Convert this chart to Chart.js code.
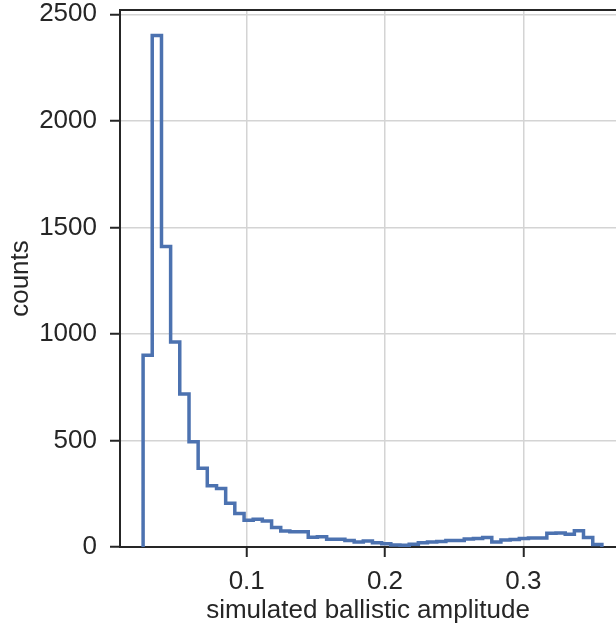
<!DOCTYPE html>
<html lang="en">
<head>
  <meta charset="UTF-8">
  <title>Simulated ballistic amplitude histogram</title>
  <script src="https://cdn.jsdelivr.net/npm/chart.js"></script>
  <style>
    html, body { margin: 0; padding: 0; background: #fff; }
    #wrap { width: 616px; height: 626px; }
  </style>
</head>
<body>
  <div id="wrap"><canvas id="histChart" width="616" height="626"></canvas></div>
  <script>
    // histogram bin edges (51) and counts per bin (50)
    const binEdges = [
      0.0251, 0.0317, 0.0384, 0.0450, 0.0516, 0.0583, 0.0649, 0.0715, 0.0782, 0.0848,
      0.0914, 0.0981, 0.1047, 0.1113, 0.1180, 0.1246, 0.1312, 0.1379, 0.1445, 0.1511,
      0.1578, 0.1644, 0.1710, 0.1777, 0.1843, 0.1909, 0.1976, 0.2042, 0.2108, 0.2175,
      0.2241, 0.2307, 0.2374, 0.2440, 0.2507, 0.2573, 0.2639, 0.2706, 0.2772, 0.2838,
      0.2905, 0.2971, 0.3037, 0.3104, 0.3170, 0.3236, 0.3303, 0.3369, 0.3435, 0.3502,
      0.3568
    ];
    const counts = [
      900, 2400, 1410, 962, 718, 494, 369, 288, 275, 205,
      157, 125, 130, 122, 92, 75, 72, 72, 46, 48,
      36, 36, 30, 23, 28, 20, 15, 9, 8, 13,
      20, 24, 26, 30, 31, 38, 40, 45, 23, 33,
      35, 40, 42, 42, 64, 66, 60, 76, 45, 12
    ];
    const xTicks = [0.1, 0.2, 0.3];
    const yTicks = [0, 500, 1000, 1500, 2000, 2500];

    const ink = '#262626';
    const gridGray = '#d4d4d4';
    const fontFamily = '"Liberation Sans", Arial, sans-serif';

    // step outline of the histogram: vertical + horizontal segments
    const outline = [{ x: binEdges[0], y: 0 }];
    counts.forEach((c, i) => {
      outline.push({ x: binEdges[i], y: c });
      outline.push({ x: binEdges[i + 1], y: c });
    });
    outline.push({ x: binEdges[binEdges.length - 1], y: 0 });

    const ctx = document.getElementById('histChart').getContext('2d');
    new Chart(ctx, {
      type: 'line',
      data: {
        datasets: [{
          data: outline,
          borderColor: '#4c72b0',
          borderWidth: 3.5,
          pointRadius: 0,
          tension: 0,
          fill: false,
          borderJoinStyle: 'miter'
        }]
      },
      options: {
        responsive: false,
        animation: false,
        devicePixelRatio: 1,
        layout: { padding: 0 },
        plugins: { legend: { display: false }, tooltip: { enabled: false } },
        scales: {
          x: {
            type: 'linear',
            position: 'bottom',
            min: 0.0084,
            max: 0.367,
            afterBuildTicks: s => { s.ticks = xTicks.map(v => ({ value: v })); },
            afterFit: s => { s.height = 79; s.paddingLeft = 0; s.paddingRight = 0; },
            grid: { color: gridGray, lineWidth: 1.5, tickColor: ink, tickLength: 10, tickWidth: 2 },
            border: { display: true, color: ink, width: 2 },
            ticks: {
              color: ink, padding: 9, maxRotation: 0,
              font: { family: fontFamily, size: 26 },
              callback: v => v.toFixed(1)
            },
            title: {
              display: true, text: 'simulated ballistic amplitude', color: ink,
              font: { family: fontFamily, size: 26 }, padding: { top: 0, bottom: 0 }
            }
          },
          xTop: {
            type: 'linear',
            position: 'top',
            min: 0.0084,
            max: 0.367,
            afterBuildTicks: s => { s.ticks = []; },
            afterFit: s => { s.height = 10; },
            grid: { display: false },
            border: { display: true, color: ink, width: 2 },
            ticks: { display: false }
          },
          y: {
            type: 'linear',
            min: 0,
            max: 2520,
            afterBuildTicks: s => { s.ticks = yTicks.map(v => ({ value: v })); },
            afterFit: s => { s.width = 120; s.paddingTop = 0; s.paddingBottom = 0; },
            grid: { color: gridGray, lineWidth: 1.5, tickColor: ink, tickLength: 10, tickWidth: 2 },
            border: { display: true, color: ink, width: 2 },
            ticks: {
              color: ink, padding: 13,
              font: { family: fontFamily, size: 26 },
              callback: v => String(v)
            },
            title: {
              display: true, text: 'counts', color: ink,
              font: { family: fontFamily, size: 26 }, padding: { top: 5, bottom: 0 }
            }
          }
        }
      }
    });
  </script>
</body>
</html>
